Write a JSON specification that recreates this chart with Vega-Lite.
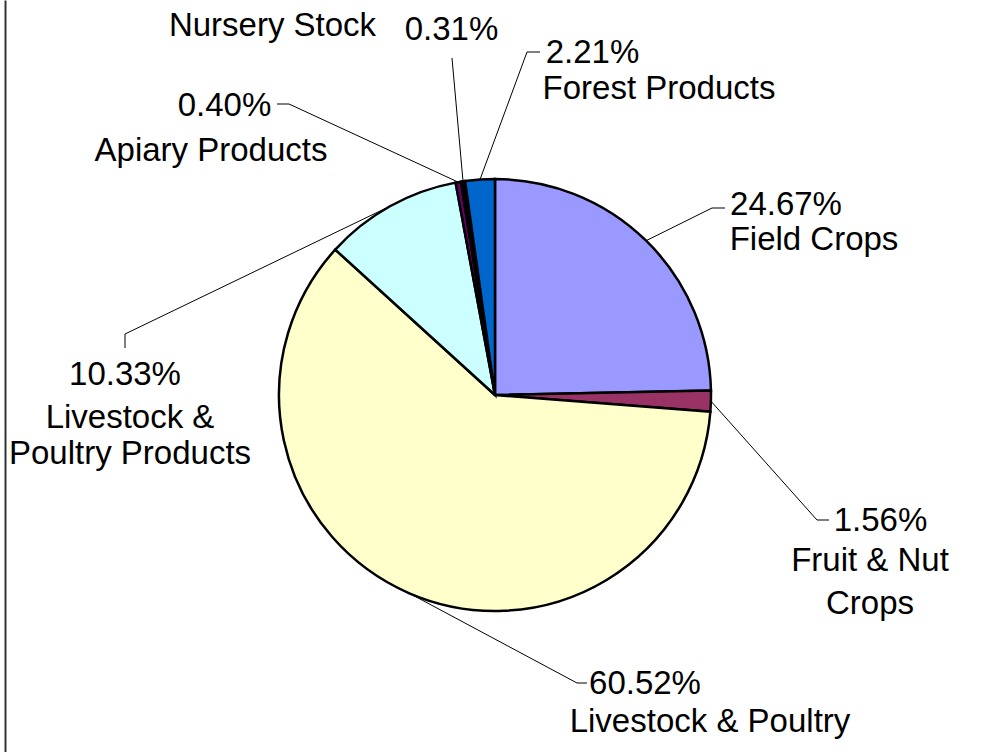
{
  "$schema": "https://vega.github.io/schema/vega-lite/v6.json",
  "width": 976,
  "height": 752,
  "autosize": {"type": "none"},
  "padding": {"left": 5, "top": 0, "right": 0, "bottom": 0},
  "background": "white",
  "config": {"view": {"stroke": null}},
  "data": {
    "values": [
      {"category": "Field Crops", "label": "Field Crops", "value": 0.2467},
      {"category": "Fruit & Nut Crops", "label": "Fruit & Nut\nCrops", "value": 0.0156},
      {"category": "Livestock & Poultry", "label": "Livestock & Poultry", "value": 0.6052},
      {"category": "Livestock & Poultry Products", "label": "Livestock &\nPoultry Products", "value": 0.1033},
      {"category": "Apiary Products", "label": "Apiary Products", "value": 0.0040},
      {"category": "Nursery Stock", "label": "Nursery Stock", "value": 0.0031},
      {"category": "Forest Products", "label": "Forest Products", "value": 0.0221}
    ]
  },
  "transform": [
    {"window": [{"op": "row_number", "as": "idx"}, {"op": "sum", "field": "value", "as": "cum"}], "frame": [null, 0]},
    {"calculate": "datum.cum - datum.value / 2", "as": "mid"},
    {"calculate": "216 * sin(2 * PI * datum.mid)", "as": "ex"},
    {"calculate": "-216 * cos(2 * PI * datum.mid)", "as": "ey"},
    {"calculate": "({'Field Crops': [217,-187,230,-187,291,-190,319,-155], 'Fruit & Nut Crops': [322,125,334,125,385.5,125.5,375,165.5], 'Livestock & Poultry': [82,288,92,288,150,289,215,327], 'Livestock & Poultry Products': [-370,-61,-370,-47,-370,-20,-365,23], 'Apiary Products': [-206,-291,-218,-291,-270.5,-289,-284,-244.5], 'Nursery Stock': [-43,-337,-43,-337,-43.5,-365,-222.5,-369], 'Forest Products': [32,-343,45,-343,97.5,-342,164,-306]})[datum.category]", "as": "L"},
    {"calculate": "datum.L[0]", "as": "lx"},
    {"calculate": "datum.L[1]", "as": "ly"},
    {"calculate": "datum.L[2]", "as": "tx"},
    {"calculate": "datum.L[3]", "as": "ty"},
    {"calculate": "datum.L[4]", "as": "px"},
    {"calculate": "datum.L[5]", "as": "py"},
    {"calculate": "datum.L[6]", "as": "nx"},
    {"calculate": "datum.L[7]", "as": "ny"}
  ],
  "layer": [
    {
      "mark": {"type": "arc", "radius": 216, "stroke": "black", "strokeWidth": 2.5},
      "encoding": {
        "x": {"datum": 0, "type": "quantitative", "scale": {"domain": [-490, 486], "nice": false, "zero": false}, "axis": null},
        "y": {"datum": 0, "type": "quantitative", "scale": {"domain": [-395, 357], "nice": false, "zero": false, "reverse": true}, "axis": {"title": null, "domain": true, "domainColor": "#333333", "domainWidth": 2, "ticks": false, "labels": false, "grid": false}},
        "theta": {"field": "value", "type": "quantitative", "stack": true},
        "order": {"field": "idx", "type": "quantitative"},
        "color": {
          "field": "category", "type": "nominal", "sort": null, "legend": null,
          "scale": {
            "domain": ["Field Crops", "Fruit & Nut Crops", "Livestock & Poultry", "Livestock & Poultry Products", "Apiary Products", "Nursery Stock", "Forest Products"],
            "range": ["#9999FF", "#993366", "#FFFFCC", "#CCFFFF", "#660066", "#000000", "#0066CC"]
          }
        }
      }
    },
    {
      "mark": {"type": "rule", "color": "black", "strokeWidth": 1},
      "encoding": {
        "x": {"field": "ex", "type": "quantitative", "title": null},
        "y": {"field": "ey", "type": "quantitative", "title": null},
        "x2": {"field": "lx"},
        "y2": {"field": "ly"}
      }
    },
    {
      "mark": {"type": "rule", "color": "black", "strokeWidth": 1},
      "encoding": {
        "x": {"field": "lx", "type": "quantitative", "title": null},
        "y": {"field": "ly", "type": "quantitative", "title": null},
        "x2": {"field": "tx"},
        "y2": {"field": "ty"}
      }
    },
    {
      "mark": {"type": "text", "font": "Liberation Sans", "fontSize": 33, "align": "center", "baseline": "middle", "color": "black"},
      "encoding": {
        "x": {"field": "px", "type": "quantitative", "title": null},
        "y": {"field": "py", "type": "quantitative", "title": null},
        "text": {"field": "value", "type": "quantitative", "format": ".2%"}
      }
    },
    {
      "transform": [{"filter": "datum.category !== 'Livestock & Poultry Products'"}],
      "mark": {"type": "text", "font": "Liberation Sans", "fontSize": 33, "align": "center", "baseline": "middle", "color": "black", "lineBreak": "\n", "lineHeight": 43},
      "encoding": {
        "x": {"field": "nx", "type": "quantitative", "title": null},
        "y": {"field": "ny", "type": "quantitative", "title": null},
        "text": {"field": "label", "type": "nominal"}
      }
    },
    {
      "transform": [{"filter": "datum.category === 'Livestock & Poultry Products'"}],
      "mark": {"type": "text", "font": "Liberation Sans", "fontSize": 33, "align": "center", "baseline": "middle", "color": "black", "lineBreak": "\n", "lineHeight": 36},
      "encoding": {
        "x": {"field": "nx", "type": "quantitative", "title": null},
        "y": {"field": "ny", "type": "quantitative", "title": null},
        "text": {"field": "label", "type": "nominal"}
      }
    }
  ]
}
